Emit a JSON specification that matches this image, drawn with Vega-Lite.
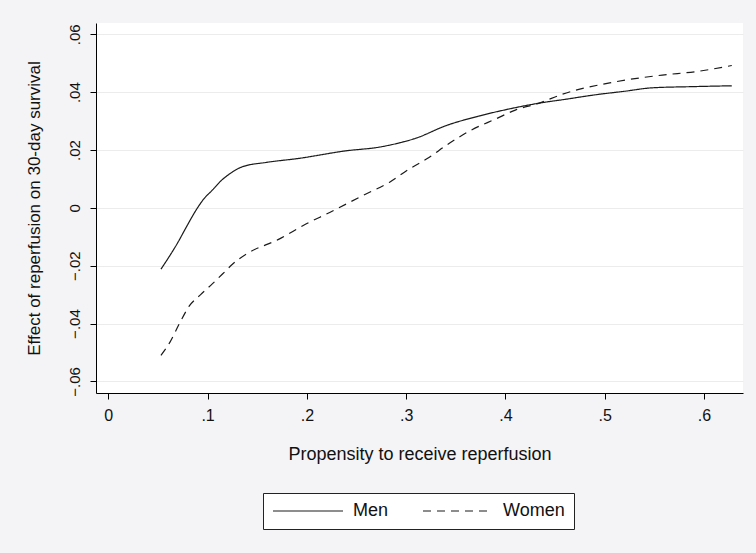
{
  "$schema": "https://vega.github.io/schema/vega-lite/v6.json",
  "width": 647,
  "height": 370,
  "autosize": {"type": "none"},
  "padding": {"left": 96, "top": 23, "right": 13, "bottom": 160},
  "background": "#f4f3f6",
  "config": {
    "view": {"fill": "white", "stroke": null},
    "font": "Liberation Sans",
    "axis": {"labelFont": "Liberation Sans", "titleFont": "Liberation Sans", "labelColor": "#111", "titleColor": "#111", "titleFontWeight": "normal", "domainColor": "#000", "tickColor": "#000"},
    "legend": {"labelFont": "Liberation Sans"}
  },
  "data": {
    "values": [
      {"p": 0.053, "e": -0.0212, "sex": "Men"},
      {"p": 0.062, "e": -0.0165, "sex": "Men"},
      {"p": 0.070, "e": -0.0120, "sex": "Men"},
      {"p": 0.078, "e": -0.0070, "sex": "Men"},
      {"p": 0.088, "e": -0.0010, "sex": "Men"},
      {"p": 0.096, "e": 0.0030, "sex": "Men"},
      {"p": 0.105, "e": 0.0062, "sex": "Men"},
      {"p": 0.114, "e": 0.0095, "sex": "Men"},
      {"p": 0.122, "e": 0.0117, "sex": "Men"},
      {"p": 0.135, "e": 0.0142, "sex": "Men"},
      {"p": 0.159, "e": 0.0157, "sex": "Men"},
      {"p": 0.192, "e": 0.0171, "sex": "Men"},
      {"p": 0.239, "e": 0.0197, "sex": "Men"},
      {"p": 0.273, "e": 0.0210, "sex": "Men"},
      {"p": 0.290, "e": 0.0222, "sex": "Men"},
      {"p": 0.310, "e": 0.0241, "sex": "Men"},
      {"p": 0.340, "e": 0.0284, "sex": "Men"},
      {"p": 0.374, "e": 0.0318, "sex": "Men"},
      {"p": 0.404, "e": 0.0342, "sex": "Men"},
      {"p": 0.434, "e": 0.0362, "sex": "Men"},
      {"p": 0.460, "e": 0.0375, "sex": "Men"},
      {"p": 0.491, "e": 0.0391, "sex": "Men"},
      {"p": 0.520, "e": 0.0403, "sex": "Men"},
      {"p": 0.548, "e": 0.0415, "sex": "Men"},
      {"p": 0.588, "e": 0.0419, "sex": "Men"},
      {"p": 0.628, "e": 0.0422, "sex": "Men"},
      {"p": 0.053, "e": -0.0510, "sex": "Women"},
      {"p": 0.062, "e": -0.0465, "sex": "Women"},
      {"p": 0.0715, "e": -0.0401, "sex": "Women"},
      {"p": 0.0816, "e": -0.0339, "sex": "Women"},
      {"p": 0.093, "e": -0.0300, "sex": "Women"},
      {"p": 0.105, "e": -0.0262, "sex": "Women"},
      {"p": 0.117, "e": -0.0222, "sex": "Women"},
      {"p": 0.125, "e": -0.0195, "sex": "Women"},
      {"p": 0.139, "e": -0.0160, "sex": "Women"},
      {"p": 0.172, "e": -0.0108, "sex": "Women"},
      {"p": 0.199, "e": -0.0056, "sex": "Women"},
      {"p": 0.223, "e": -0.0016, "sex": "Women"},
      {"p": 0.256, "e": 0.0042, "sex": "Women"},
      {"p": 0.283, "e": 0.0088, "sex": "Women"},
      {"p": 0.303, "e": 0.0134, "sex": "Women"},
      {"p": 0.323, "e": 0.0174, "sex": "Women"},
      {"p": 0.340, "e": 0.0215, "sex": "Women"},
      {"p": 0.364, "e": 0.0266, "sex": "Women"},
      {"p": 0.390, "e": 0.0307, "sex": "Women"},
      {"p": 0.410, "e": 0.0338, "sex": "Women"},
      {"p": 0.434, "e": 0.0362, "sex": "Women"},
      {"p": 0.4575, "e": 0.0393, "sex": "Women"},
      {"p": 0.508, "e": 0.0434, "sex": "Women"},
      {"p": 0.558, "e": 0.0459, "sex": "Women"},
      {"p": 0.592, "e": 0.0471, "sex": "Women"},
      {"p": 0.628, "e": 0.0492, "sex": "Women"}
    ]
  },
  "mark": {"type": "line", "color": "#1a1a1a", "strokeWidth": 1.2, "interpolate": "monotone"},
  "encoding": {
    "x": {
      "field": "p", "type": "quantitative",
      "scale": {"domain": [-0.0124, 0.6393], "nice": false, "zero": false},
      "axis": {
        "title": "Propensity to receive reperfusion",
        "values": [0, 0.1, 0.2, 0.3, 0.4, 0.5, 0.6],
        "labelExpr": "datum.value == 0 ? '0' : replace(format(datum.value, '.1f'), '0.', '.')",
        "grid": false, "tickSize": 6, "labelPadding": 8, "labelFontSize": 16,
        "titleFontSize": 18, "titlePadding": 22, "labelFlush": false
      }
    },
    "y": {
      "field": "e", "type": "quantitative",
      "scale": {"domain": [-0.064, 0.0639], "nice": false, "zero": false},
      "axis": {
        "title": "Effect of reperfusion on 30-day survival",
        "values": [-0.06, -0.04, -0.02, 0, 0.02, 0.04, 0.06],
        "labelExpr": "datum.value == 0 ? '0' : replace(format(datum.value, '.2f'), '0.', '.')",
        "labelAngle": 270, "labelAlign": "center", "labelBaseline": "bottom",
        "grid": true, "gridColor": "#ececec", "gridWidth": 1,
        "tickSize": 6, "labelPadding": 8, "labelFontSize": 15,
        "titleFontSize": 17, "titlePadding": 24, "labelFlush": false
      }
    },
    "strokeDash": {
      "field": "sex", "type": "nominal",
      "scale": {"domain": ["Men", "Women"], "range": [[1, 0], [8, 6]]},
      "legend": {
        "title": null, "orient": "none", "direction": "horizontal",
        "legendX": 167, "legendY": 470,
        "strokeColor": "#222", "fillColor": "white", "padding": 9,
        "symbolType": "M-2.67,0H20.67", "symbolSize": 36, "symbolStrokeWidth": 1.2,
        "symbolStrokeColor": "#1a1a1a", "symbolFillColor": "transparent",
        "labelFontSize": 18, "labelOffset": 63, "columnPadding": 31, "labelColor": "#111"
      }
    }
  }
}
